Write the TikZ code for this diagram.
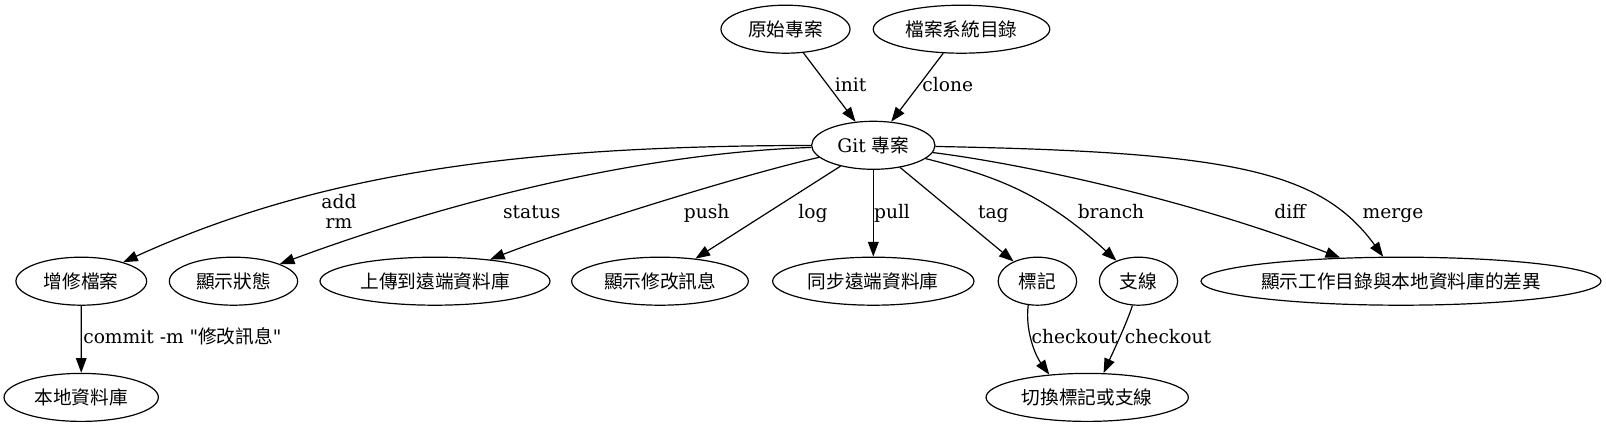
\documentclass[tikz,border=0pt]{standalone}
\usepackage{fontspec}
\setmainfont{DejaVu Serif}
\newfontfamily\cjk{Noto Sans CJK TC}
\usepackage{tikz}
\usetikzlibrary{arrows.meta}
\usetikzlibrary{shapes.geometric}

\begin{document}
\begin{tikzpicture}[
	x=0.75pt, y=-0.75pt,
	MyNodes/.style={ellipse, draw, line width=0.9pt, inner sep=0pt, minimum height=36pt, minimum width=#1*0.75pt, font=\fontsize{14}{16}\selectfont},
	MyEdges/.style={draw, line width=0.9pt, -{Triangle[length=11pt, width=8pt]}},
	MyLabels/.style={inner sep=0pt, anchor=base, font=\fontsize{14}{15}\selectfont}
	]
	\useasboundingbox (0,0) rectangle (1606,427);
	
	% nodes
	\node[MyNodes=129] (orig) at (785.5,29.2) {\cjk 原始專案};
	\node[MyNodes=176.5] (fsdir) at (961.5,29.2) {\cjk 檔案系統目錄};
	\node[MyNodes=123.3] (git) at (873.3,145.3) {Git {\cjk 專案}};
	
	\node[MyNodes=130.7] (modify) at (81.3,281.2) {\cjk 增修檔案};
	\node[MyNodes=128.3] (status) at (233.5,281.2) {\cjk 顯示狀態};
	\node[MyNodes=230] (push) at (435,281.2) {\cjk 上傳到遠端資料庫};
	\node[MyNodes=176.7] (log) at (660,281.2) {\cjk 顯示修改訊息};
	\node[MyNodes=201.3] (pull) at (873.3,281.2) {\cjk 同步遠端資料庫};
	\node[MyNodes=78.5] (tag) at (1037.4,281.2) {\cjk 標記};
	\node[MyNodes=78.3] (branch) at (1138.5,281.2) {\cjk 支線};
	\node[MyNodes=400] (diff) at (1401,281.2) {\cjk 顯示工作目錄與本地資料庫的差異};
	
	\node[MyNodes=154.3] (local) at (81.2,397.4) {\cjk 本地資料庫};
	\node[MyNodes=202.3] (switch) at (1087.2,397.4) {\cjk 切換標記或支線};
	
	% edges
	\draw[MyEdges] (orig) -- (git) node[MyLabels] at (850.7,91.7) {init};
	\draw[MyEdges] (fsdir) -- (git) node[MyLabels] at (947.7,91.7) {clone};
	
	\draw[MyEdges] (git) .. controls (540,146) and (330,168) .. (modify)
	node[MyLabels, anchor=center, align=center] at (339,211.3) {add\\rm};
	\draw[MyEdges] (git) .. controls (620,154) and (420,212) .. (status)
	node[MyLabels] at (531.7,218.3) {status};
	\draw[MyEdges] (git) .. controls (740,175) and (560,232) .. (push)
	node[MyLabels] at (706.7,218.3) {push};
	\draw[MyEdges] (git) -- (log) node[MyLabels] at (813,218.3) {log};
	\draw[MyEdges] (git) -- (pull) node[MyLabels] at (892,218.3) {pull};
	\draw[MyEdges] (git) -- (tag) node[MyLabels] at (993.3,218.3) {tag};
	\draw[MyEdges] (git) .. controls (990,175) and (1040,190) .. (branch)
	node[MyLabels] at (1111,218.3) {branch};
	\draw[MyEdges] (git) .. controls (1010,162) and (1180,196) .. (diff)
	node[MyLabels] at (1290,218.3) {diff};
	\draw[MyEdges] (git) .. controls (1230,152) and (1320,170) .. (diff)
	node[MyLabels] at (1393,218.3) {merge};
	
	\draw[MyEdges] (modify) -- (local)
	node[MyLabels, anchor=base west] at (82.7,343.3) {commit -m \textquotedbl{\cjk 修改訊息}\textquotedbl};
	\draw[MyEdges] (tag.-111) .. controls (1025,330) and (1035,355) .. (switch.149)
	node[MyLabels] at (1074.7,343.3) {checkout};
	\draw[MyEdges] (branch.-104) .. controls (1126,325) and (1113,352) .. (switch.56)
	node[MyLabels] at (1168,343.3) {checkout};
	
\end{tikzpicture}
\end{document}
